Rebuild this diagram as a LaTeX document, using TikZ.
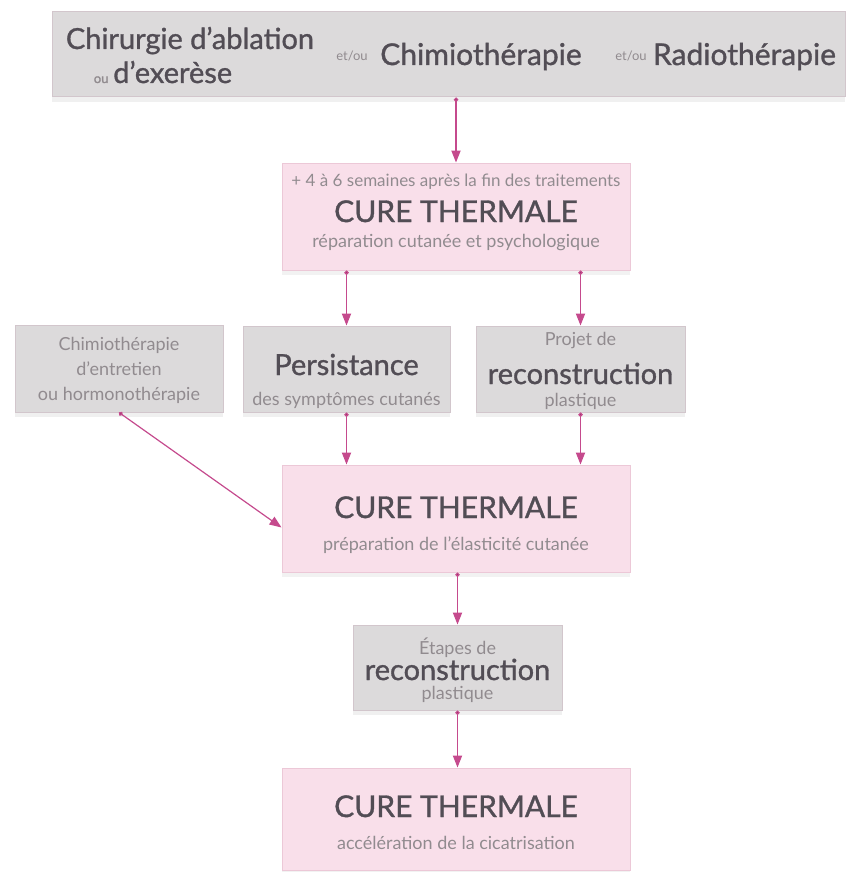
\documentclass[tikz,border=0pt]{standalone}
\usepackage{fontspec}
\setmainfont{Lato}
\newfontfamily\headfont{Lato}[FakeBold=1.1]
\usepackage{tikz}
\usetikzlibrary{arrows.meta,positioning,calc,shadows}
\definecolor{cgrey}{HTML}{DCDADB}
\definecolor{cgreyline}{HTML}{D2C6CC}
\definecolor{cpink}{HTML}{F9DFEA}
\definecolor{cpinkline}{HTML}{ECC8D7}
\definecolor{carrow}{HTML}{C54A8D}
\definecolor{ctext}{HTML}{524D55}
\definecolor{clight}{HTML}{918B8F}

\begin{document}
\begin{tikzpicture}[x=0.5pt, y=-0.5pt,
  greybox/.style={draw=cgreyline, fill=cgrey, line width=0.5pt, inner sep=0pt,
    drop shadow={shadow xshift=0pt, shadow yshift=-2.5pt, opacity=0.12}},
  pinkbox/.style={draw=cpinkline, fill=cpink, line width=0.5pt, inner sep=0pt,
    drop shadow={shadow xshift=0pt, shadow yshift=-2.5pt, opacity=0.10}},
  flow/.style={draw=carrow, line width=0.6pt,
    {Circle[length=2.2pt, fill=carrow!70!black]}-{Triangle[length=6pt, width=4.6pt]}},
  head/.style={font=\fontsize{15}{18}\headfont, text=ctext, anchor=base},
  headb/.style={font=\fontsize{14.5}{17}\headfont, text=ctext, anchor=base},
  small/.style={font=\fontsize{9}{11}\selectfont, text=clight, anchor=base},
  tinyword/.style={font=\fontsize{6.5}{8}\selectfont, text=clight, anchor=base},
]
\useasboundingbox (0,0) rectangle (846,872);

% boxes (sizes in pt, centres in px)
\node[greybox, minimum width=396.5pt, minimum height=42.5pt] (treat) at (448.5,54.5) {};
\node[pinkbox, minimum width=174pt, minimum height=53.5pt] (cure1) at (456,216.5) {};
\node[greybox, minimum width=104pt, minimum height=43.5pt] (entretien) at (119,368.5) {};
\node[greybox, minimum width=103.5pt, minimum height=43pt] (persist) at (346.5,369) {};
\node[greybox, minimum width=104.5pt, minimum height=43pt] (projet) at (580.5,369) {};
\node[pinkbox, minimum width=174pt, minimum height=53.5pt] (cure2) at (456,518.5) {};
\node[greybox, minimum width=104.5pt, minimum height=42.5pt] (etapes) at (457.5,667.5) {};
\node[pinkbox, minimum width=174pt, minimum height=51pt] (cure3) at (456,819) {};

% treatments
\node[head, font=\fontsize{14.5}{18}\headfont] (chir) at (190,49) {Chirurgie d’ablation};
\node[head, font=\fontsize{14.5}{18}\headfont] (exer) at (163,83) {{\fontsize{6.5}{8}\selectfont\color{clight}ou}\,d’exerèse};
\node[tinyword] (etou1) at (352,61) {et/ou};
\node[head] (chimio) at (481,65) {Chimiothérapie};
\node[tinyword] (etou2) at (631,61) {et/ou};
\node[head] (radio) at (744.5,65) {Radiothérapie};

% first cure
\node[small, font=\fontsize{8.5}{10}\selectfont] (delai) at (456,186) {+ 4 à 6 semaines après la fin des traitements};
\node[head] (ct1) at (456,222) {CURE THERMALE};
\node[small] (rep) at (456,247) {réparation cutanée et psychologique};

% middle row
\node[small] (ent1) at (119,350) {Chimiothérapie};
\node[small] (ent2) at (119,375) {d’entretien};
\node[small] (ent3) at (119,400) {ou hormonothérapie};
\node[headb] (pers1) at (346.5,375) {Persistance};
\node[small] (pers2) at (346.5,405) {des symptômes cutanés};
\node[small] (proj1) at (580.5,345) {Projet de};
\node[headb] (proj2) at (580.5,384) {reconstruction};
\node[small] (proj3) at (580.5,406) {plastique};

% second cure
\node[head] (ct2) at (456,518) {CURE THERMALE};
\node[small] (prep) at (456,550) {préparation de l’élasticité cutanée};

% reconstruction steps
\node[small] (eta1) at (457.5,654) {Étapes de};
\node[headb] (eta2) at (457.5,680) {reconstruction};
\node[small] (eta3) at (457.5,699) {plastique};

% third cure
\node[head] (ct3) at (456,817) {CURE THERMALE};
\node[small] (acc) at (456,849) {accélération de la cicatrisation};

% connectors
\draw[flow] (cure1.north |- treat.south) -- (cure1.north);
\draw[flow] (persist.north |- cure1.south) -- (persist.north);
\draw[flow] (projet.north |- cure1.south) -- (projet.north);
\draw[flow] (persist.south) -- (persist.south |- cure2.north);
\draw[flow] (projet.south) -- (projet.south |- cure2.north);
\draw[flow] (entretien.south) -- ($(cure2.west)+(0,9)$);
\draw[flow] (etapes.north |- cure2.south) -- (etapes.north);
\draw[flow] (etapes.south) -- (etapes.south |- cure3.north);
\end{tikzpicture}
\end{document}
